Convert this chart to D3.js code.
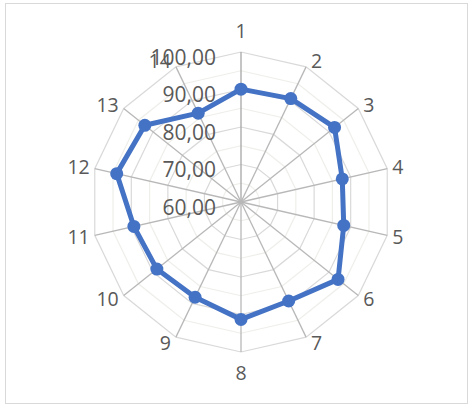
<!DOCTYPE html>
<html>
<head>
<meta charset="utf-8">
<script src="https://cdn.jsdelivr.net/npm/d3@7"></script>
<style>
  body { margin: 0; background: #fff; }
  text { font-family: "Open Sans", "Noto Sans", sans-serif; fill: #595959; }
</style>
</head>
<body>
<svg width="471" height="407"></svg>
<script>
var categories = ["1", "2", "3", "4", "5", "6", "7", "8", "9", "10", "11", "12", "13", "14"];
var values = [90.1, 90.6, 91.9, 87.7, 88.1, 93.1, 89.3, 91.3, 88.2, 88.7, 89.3, 94.0, 92.8, 86.3];
var tickValues = [60, 70, 80, 90, 100];
var ringValues = [65, 70, 75, 80, 85, 90, 95, 100];

var svg = d3.select("svg"),
    cx = 241,
    cy = 202,
    radius = 150;

// chart frame
svg.append("rect")
    .attr("x", 5.5).attr("y", 3.5)
    .attr("width", 462).attr("height", 400)
    .attr("fill", "none")
    .attr("stroke", "#d9d9d9");

var g = svg.append("g").attr("transform", `translate(${cx},${cy})`);

var r = d3.scaleLinear().domain([60, 100]).range([0, radius]);
var angle = d3.scaleLinear().domain([0, categories.length]).range([0, 2 * Math.PI]);

function pt (i, v) {
    let a = angle(i);
    return [Math.sin(a) * r(v), -Math.cos(a) * r(v)];
}

// rings
ringValues.forEach((v) => {
    let ring = categories.map((c, i) => pt(i, v));
    g.append("path")
        .attr("d", d3.line()(ring) + "Z")
        .attr("fill", "none")
        .attr("stroke", v % 10 === 0 ? "#d9d9d9" : "#eeeeea")
        .attr("stroke-width", 1.2);
});

// spokes
categories.forEach((c, i) => {
    let p = pt(i, 100);
    g.append("line")
        .attr("x1", 0).attr("y1", 0)
        .attr("x2", p[0]).attr("y2", p[1])
        .attr("stroke", i === 0 ? "#a6a6a6" : "#b8b8b8")
        .attr("stroke-width", 1.3);
});

// tick labels
g.selectAll(".tick")
    .data(tickValues)
    .enter().append("text")
    .attr("class", "tick")
    .attr("x", -25)
    .attr("y", (d) => -r(d) + 5)
    .attr("dy", "0.36em")
    .attr("text-anchor", "end")
    .style("font-size", "21px")
    .text((d) => d3.format(".2f")(d).replace(".", ","));

// category labels, placed just outside the end of each spoke
g.selectAll(".cat")
    .data(categories)
    .enter().append("text")
    .attr("class", "cat")
    .attr("text-anchor", "middle")
    .attr("dy", "0.36em")
    .style("font-size", "19.5px")
    .text((d) => d)
    .each(function(d, i) {
        let a = angle(i),
            s = Math.sin(a),
            co = Math.cos(a),
            w = this.getComputedTextLength(),
            end = pt(i, 100),
            x = end[0],
            y = end[1] - co * 6;
        if (Math.abs(s) > 0.01) {
            x += Math.sign(s) * (w / 2 + 5);
        } else {
            y -= co * 15;
        }
        d3.select(this).attr("x", x).attr("y", y);
    });

// series
var pts = values.map((v, i) => pt(i, v));

g.append("path")
    .attr("d", d3.line()(pts) + "Z")
    .attr("fill", "none")
    .attr("stroke", "#4472c4")
    .attr("stroke-width", 5)
    .attr("stroke-linejoin", "round");

g.selectAll(".dot")
    .data(pts)
    .enter().append("circle")
    .attr("class", "dot")
    .attr("cx", (d) => d[0])
    .attr("cy", (d) => d[1])
    .attr("r", 6.5)
    .attr("fill", "#4472c4");
</script>
</body>
</html>
